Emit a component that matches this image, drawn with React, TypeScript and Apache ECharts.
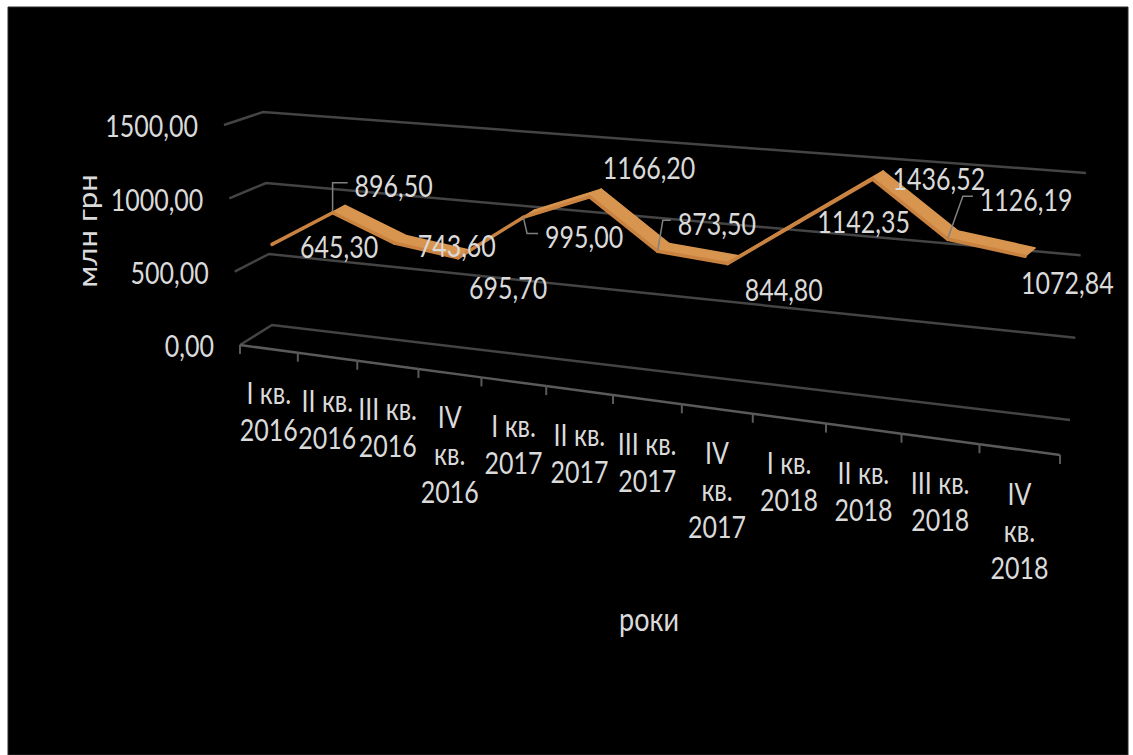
import React, { useEffect, useRef } from 'react';
import * as echarts from 'echarts';

// ---------- data ----------
const CATEGORIES = [
  'I кв. 2016', 'II кв. 2016', 'III кв. 2016', 'IV кв. 2016',
  'I кв. 2017', 'II кв. 2017', 'III кв. 2017', 'IV кв. 2017',
  'I кв. 2018', 'II кв. 2018', 'III кв. 2018', 'IV кв. 2018',
];
const VALUES = [645.3, 896.5, 743.6, 695.7, 995.0, 1166.2, 873.5, 844.8, 1142.35, 1436.52, 1126.19, 1072.84];
const Y_TICKS = [0, 500, 1000, 1500];
const Y_NAME = 'млн грн';
const X_NAME = 'роки';

// ---------- layout (label placement relative to the data point) ----------
const LABEL_OFFSETS = [
  [28, 2], [22, -27], [23, 2], [11, 30], [22, 19], [13, -29],
  [20, -28], [17, 26], [18, 0], [20, -1], [32, -40], [-4, 26],
];
const LEADER_ELBOW: (number | null)[] = [null, 0, null, null, 4, null, 5, null, null, null, 15, null];

// ---------- style ----------
const FONT = 'Lato';
const FS = 25;
const STRETCH = 1.2;
const TEXT_FILL = '#dadada';
const GRID_COLOR = '#444444';
const EDGE_COLOR = '#5a5a5a';
const RIBBON_FILL = '#d8954f';
const RIBBON_EDGE = '#c9823f';
const LEADER_COLOR = '#808080';

// ---------- perspective projection of the flat grid ----------
function ribbonFront(U: number, V: number): number[] {
  const w = 1 - 0.1351 * U;
  return [(242.2 + 678.4 * U) / w, (338.5 + 48.8 * U - 226.7 * V) / w];
}
function ribbonDepth(U: number): number[] {
  return [13 - 3 * U, -7 - 1.5 * U];
}
function floorFront(U: number): number[] {
  const w = 1 - 0.1655 * U;
  return [(240 + 644.6 * U) / w, (345 + 34.7 * U) / w];
}
function frontLeft(V: number): number[] {
  return [240 - 16 * V, 345 - 220 * V];
}
function backLeft(V: number): number[] {
  return [272 - 9 * V, 325 - 213 * V];
}
function backRight(V: number): number[] {
  return [1070 + 16 * V, 420 - 247 * V];
}
function norm(params: any, pt: number[]): number[] {
  const cs = params.coordSys;
  return [(pt[0] - cs.x) / cs.width, (cs.y + cs.height - pt[1]) / cs.height];
}
const fmt = (v: number) => v.toFixed(2).replace('.', ',');
const wrapCategory = (c: string) => {
  const p = c.split(' ');
  return p[0] === 'IV' ? p.join('\n') : p[0] + ' ' + p[1] + '\n' + p.slice(2).join(' ');
};

export default function App() {
  const ref = useRef<HTMLDivElement>(null);
  useEffect(() => {
    if (!ref.current) return;
    const chart = echarts.init(ref.current, undefined, { renderer: 'svg' });
    const option: any = {
      animation: false,
      backgroundColor: '#ffffff',
      grid: { left: 240, right: 73, top: 125, height: 220 },
      xAxis: { type: 'category', data: CATEGORIES, show: false, boundaryGap: true },
      yAxis: { type: 'value', min: 0, max: 1500, interval: 500, show: false },
      graphic: {
        elements: [
          {
            type: 'rect', z: -10, silent: true,
            shape: { x: 8, y: 7, width: 1120, height: 748 },
            style: { fill: '#000000', stroke: '#2a2a2a', lineWidth: 1 },
          },
          {
            type: 'text', x: 87, y: 231, rotation: Math.PI / 2, scaleX: STRETCH,
            style: { text: Y_NAME, fill: TEXT_FILL, fontSize: 26, fontFamily: FONT, align: 'center', verticalAlign: 'middle' },
          },
          {
            type: 'text', x: 649, y: 619, scaleY: STRETCH,
            style: { text: X_NAME, fill: TEXT_FILL, fontSize: 27, fontFamily: FONT, align: 'center', verticalAlign: 'middle' },
          },
        ],
      },
      series: [
        {
          type: 'custom',
          name: 'grid',
          z: 1,
          data: Y_TICKS.map((t) => [0, t]),
          renderItem: (params: any, api: any) => {
            const t = api.value(1);
            const V = norm(params, api.coord([0, t]))[1];
            const fl = frontLeft(V), bl = backLeft(V), br = backRight(V);
            return {
              type: 'group',
              children: [
                { type: 'polyline', shape: { points: [fl, bl, br] }, style: { stroke: GRID_COLOR, lineWidth: 2.5, fill: null } },
                {
                  type: 'text', x: fl[0] - 26, y: fl[1] + 1, scaleY: STRETCH,
                  style: { text: fmt(t), fill: TEXT_FILL, fontSize: FS, fontFamily: FONT, align: 'right', verticalAlign: 'middle' },
                },
              ],
            };
          },
        },
        {
          type: 'custom',
          name: 'floor',
          z: 1,
          data: CATEGORIES.map((c, i) => [i, 0]),
          renderItem: (params: any, api: any) => {
            const i = params.dataIndex;
            const c = api.coord([api.value(0), 0]);
            const bw = api.size([1, 0])[0];
            const U0 = norm(params, [c[0] - bw / 2, c[1]])[0];
            const Uc = norm(params, c)[0];
            const U1 = norm(params, [c[0] + bw / 2, c[1]])[0];
            const a = floorFront(U0), m = floorFront(Uc), b = floorFront(U1);
            const children: any[] = [
              { type: 'line', shape: { x1: a[0], y1: a[1], x2: b[0], y2: b[1] }, style: { stroke: EDGE_COLOR, lineWidth: 2.5 } },
              { type: 'line', shape: { x1: a[0], y1: a[1], x2: a[0], y2: a[1] + 9 }, style: { stroke: EDGE_COLOR, lineWidth: 2 } },
              {
                type: 'text', x: m[0], y: m[1] + 25, scaleY: STRETCH,
                style: {
                  text: wrapCategory(CATEGORIES[i]), fill: TEXT_FILL, fontSize: FS, fontFamily: FONT,
                  align: 'center', verticalAlign: 'top', lineHeight: 31,
                },
              },
            ];
            if (i === CATEGORIES.length - 1) {
              children.push({ type: 'line', shape: { x1: b[0], y1: b[1], x2: b[0], y2: b[1] + 9 }, style: { stroke: EDGE_COLOR, lineWidth: 2 } });
            }
            return { type: 'group', children };
          },
        },
        {
          type: 'custom',
          name: 'ribbon',
          z: 3,
          data: VALUES.map((v, i) => [i, v, i < VALUES.length - 1 ? VALUES[i + 1] : v]),
          renderItem: (params: any, api: any) => {
            const i = params.dataIndex;
            if (i >= VALUES.length - 1) return { type: 'group', children: [] };
            const p0 = norm(params, api.coord([api.value(0), api.value(1)]));
            const p1 = norm(params, api.coord([api.value(0) + 1, api.value(2)]));
            const f0 = ribbonFront(p0[0], p0[1]);
            const f1 = ribbonFront(p1[0], p1[1]);
            const d0 = ribbonDepth(p0[0]);
            const d1 = ribbonDepth(p1[0]);
            const b0 = [f0[0] + d0[0], f0[1] + d0[1]];
            const b1 = [f1[0] + d1[0], f1[1] + d1[1]];
            return {
              type: 'group',
              children: [
                {
                  type: 'polygon', shape: { points: [f0, f1, b1, b0] },
                  style: { fill: RIBBON_FILL, stroke: RIBBON_FILL, lineWidth: 1.5, lineJoin: 'round' },
                },
                { type: 'line', shape: { x1: f0[0], y1: f0[1], x2: f1[0], y2: f1[1] }, style: { stroke: RIBBON_EDGE, lineWidth: 3.5, lineCap: 'round' } },
              ],
            };
          },
        },
        {
          type: 'custom',
          name: 'labels',
          z: 4,
          data: VALUES.map((v, i) => [i, v]),
          renderItem: (params: any, api: any) => {
            const i = params.dataIndex;
            const v = api.value(1);
            const p = norm(params, api.coord([api.value(0), v]));
            const f = ribbonFront(p[0], p[1]);
            const [dx, dy] = LABEL_OFFSETS[i];
            const lx = f[0] + dx, ly = f[1] + dy;
            const children: any[] = [
              {
                type: 'text', x: lx, y: ly, scaleY: STRETCH,
                style: { text: fmt(v), fill: TEXT_FILL, fontSize: FS, fontFamily: FONT, align: 'left', verticalAlign: 'middle' },
              },
            ];
            const e = LEADER_ELBOW[i];
            if (e !== null && e !== undefined) {
              children.push({
                type: 'polyline',
                shape: { points: [[f[0], f[1] - 1], [f[0] + e, ly - 3], [lx - 7, ly - 3]] },
                style: { stroke: LEADER_COLOR, lineWidth: 1.5, fill: null },
              });
            }
            return { type: 'group', children };
          },
        },
      ],
    };
    chart.setOption(option);
    return () => chart.dispose();
  }, []);
  return (
    <div
      ref={ref}
      style={{ position: 'absolute', left: 0, top: 0, width: 1133, height: 755, overflow: 'hidden' }}
    />
  );
}
